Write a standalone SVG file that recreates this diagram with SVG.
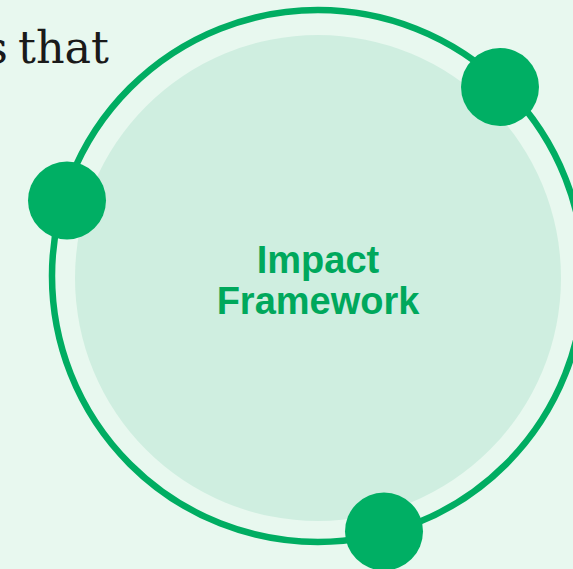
<svg xmlns="http://www.w3.org/2000/svg" width="573" height="569" viewBox="0 0 573 569">
  <style>
    .ring { fill: none; stroke: #00ad62; stroke-width: 6.5; }
    .core { fill: #cfeee0; }
    .dot { fill: #00af64; }
    .lead { font-family: "DejaVu Serif", serif; font-size: 44.5px; fill: #1a1a1a; word-spacing: -4px; }
    .title { font-family: "Liberation Sans", Arial, sans-serif; font-weight: 700; font-size: 38px; fill: #00a85c; text-anchor: middle; }
  </style>
  <rect width="573" height="569" fill="#e8f8ef"/>
  <text class="lead" x="109" y="63" text-anchor="end">s that</text>
  <g id="hub">
    <circle class="core" cx="318" cy="278" r="243"/>
    <circle class="ring" cx="318" cy="276" r="266"/>
    <text class="title" x="318" y="273">Impact</text>
    <text class="title" x="318" y="314">Framework</text>
  </g>
  <g id="connectors"></g>
  <g id="node-top-right"><circle class="dot" cx="500" cy="87" r="39"/></g>
  <g id="node-left"><circle class="dot" cx="67" cy="200.5" r="39"/></g>
  <g id="node-bottom"><circle class="dot" cx="384" cy="531.5" r="39"/></g>
</svg>
